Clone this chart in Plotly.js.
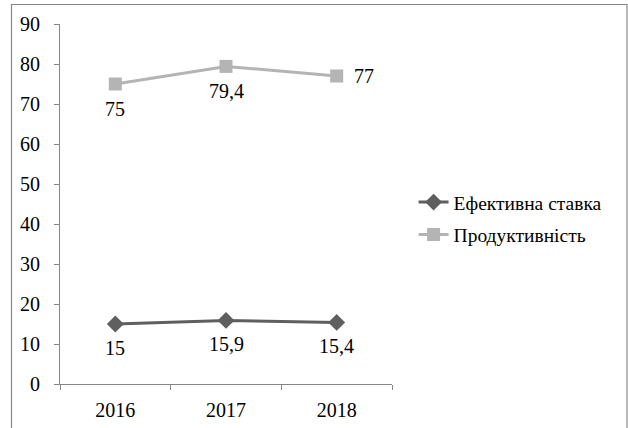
<!DOCTYPE html>
<html>
<head>
<meta charset="utf-8">
<script src="https://cdn.plot.ly/plotly-3.0.1.min.js"></script>
<style>
  html, body { margin: 0; padding: 0; background: #fff; }
  #chart { width: 628px; height: 428px; }
  /* every label of the chart is set in the serif face */
  #chart svg text { font-family: 'Liberation Serif', 'Times New Roman', serif !important; }
</style>
</head>
<body>
<div id="chart"></div>
<script>
// Years on the category axis
const years = ['2016', '2017', '2018'];

// Series values
const effectiveRate = [15, 15.9, 15.4];
const productivity = [75, 79.4, 77];

// Value labels shown next to the points (decimal comma)
const effectiveRateLabels = ['15', '15,9', '15,4'];
const productivityLabels = ['75', '79,4', '77'];

const serif = 'Liberation Serif';

const traces = [
  {
    name: 'Ефективна ставка',
    legendgroup: 'rate',
    x: years,
    y: effectiveRate,
    type: 'scatter',
    mode: 'lines+markers',
    line: { color: '#5f5f5f', width: 3 },
    marker: { symbol: 'diamond', size: 13, color: '#5f5f5f' },
    cliponaxis: false
  },
  {
    name: 'Продуктивність',
    legendgroup: 'prod',
    x: years,
    y: productivity,
    type: 'scatter',
    mode: 'lines+markers',
    line: { color: '#b4b4b4', width: 3 },
    marker: { symbol: 'square', size: 13, color: '#b4b4b4' },
    cliponaxis: false
  }
];

// Value labels: below each point, except the last productivity point (to the right).
// On a category axis, annotation x is the category's serial index.
const annotations = [];
years.forEach((yr, i) => {
  annotations.push({
    x: i, y: effectiveRate[i], text: effectiveRateLabels[i],
    showarrow: false, xanchor: 'center', yanchor: 'middle', yshift: -24
  });
  const right = i === years.length - 1;
  annotations.push({
    x: i, y: productivity[i], text: productivityLabels[i],
    showarrow: false,
    xanchor: right ? 'left' : 'center', yanchor: 'middle',
    xshift: right ? 15 : 0, yshift: right ? 0 : -25
  });
});
annotations.forEach(a => { a.font = { family: serif, size: 20, color: '#000' }; });

const layout = {
  width: 628,
  height: 428,
  margin: { l: 60, r: 236, t: 24, b: 44 },
  paper_bgcolor: '#fff',
  plot_bgcolor: '#fff',
  font: { family: serif, size: 20, color: '#000' },
  showlegend: true,
  legend: {
    x: 1.065, xanchor: 'left',
    y: 0.46, yanchor: 'middle',
    font: { family: serif, size: 19.5, color: '#000' },
    bgcolor: 'rgba(0,0,0,0)',
    itemwidth: 30,
    tracegroupgap: 4
  },
  xaxis: {
    type: 'category',
    range: [-0.5, 2.5],
    showline: true,
    linecolor: '#868686',
    linewidth: 1,
    ticks: 'outside',
    tickson: 'boundaries',
    ticklen: 5,
    tickcolor: '#868686',
    showgrid: false,
    zeroline: false,
    ticklabelstandoff: 8,
    tickfont: { family: serif, size: 20, color: '#000' }
  },
  yaxis: {
    range: [0, 90],
    dtick: 10,
    showline: true,
    linecolor: '#868686',
    linewidth: 1,
    ticks: 'outside',
    ticklen: 5,
    tickcolor: '#868686',
    showgrid: false,
    zeroline: false,
    ticklabelstandoff: 10,
    tickfont: { family: serif, size: 20, color: '#000' }
  },
  annotations: annotations,
  shapes: [
    {
      type: 'rect',
      xref: 'paper', yref: 'paper',
      x0: (11.5 - 60) / 332, x1: (627 - 60) / 332,
      y0: (384 - 450) / 360, y1: (384 - 4.5) / 360,
      line: { color: '#878787', width: 1.2 },
      fillcolor: 'rgba(0,0,0,0)',
      layer: 'below'
    }
  ]
};

Plotly.newPlot('chart', traces, layout, { displayModeBar: false, staticPlot: true });
</script>
</body>
</html>
